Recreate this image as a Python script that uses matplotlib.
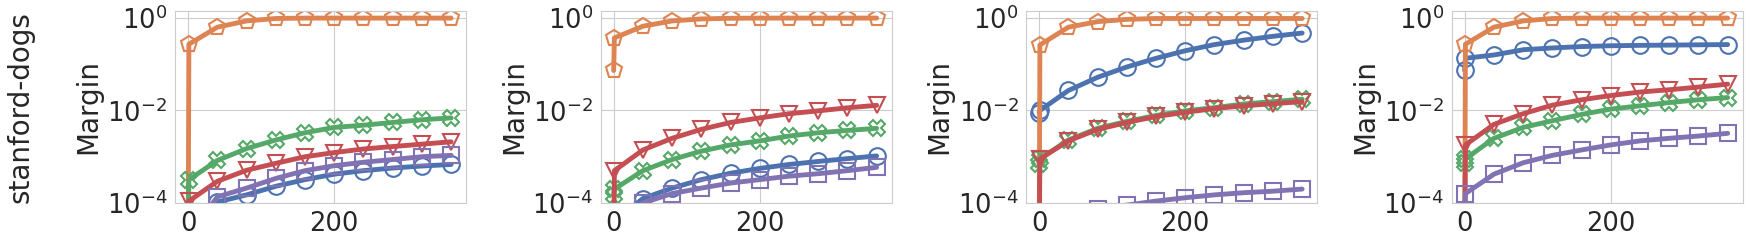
import numpy as np
import seaborn as sns
from matplotlib import pyplot as plt

# epochs at which values were logged (markers at every point)
epochs = [0, 1, 40, 80, 120, 160, 200, 240, 280, 320, 360]

# one list per panel
blue = [
    [1e-5, 3e-5, 1.05e-4, 1.5e-4, 2.3e-4, 3.2e-4, 4.2e-4, 5.0e-4, 5.7e-4, 6.3e-4, 6.8e-4],
    [2e-5, 4e-5, 1.25e-4, 2.1e-4, 3.2e-4, 4.4e-4, 5.6e-4, 6.8e-4, 7.9e-4, 9.1e-4, 1.04e-3],
    [9.0e-3, 1.0e-2, 2.7e-2, 5.2e-2, 8.7e-2, 0.134, 0.195, 0.265, 0.33, 0.40, 0.47],
    [0.073, 0.134, 0.158, 0.205, 0.224, 0.24, 0.25, 0.255, 0.258, 0.262, 0.265],
]
orange = [
    [1e-5, 0.27, 0.63, 0.86, 0.97, 0.99, 0.99, 0.99, 0.99, 0.99, 0.99],
    [0.073, 0.37, 0.66, 0.86, 0.95, 0.98, 0.99, 0.99, 0.99, 0.99, 0.99],
    [1e-5, 0.26, 0.63, 0.83, 0.93, 0.97, 0.97, 0.97, 0.97, 0.97, 0.97],
    [1e-5, 0.27, 0.63, 0.86, 0.97, 0.99, 0.99, 0.99, 0.99, 0.99, 0.99],
]
green = [
    [1e-5, 3.2e-4, 8.3e-4, 1.5e-3, 2.3e-3, 3.3e-3, 4.3e-3, 4.8e-3, 5.5e-3, 6.3e-3, 6.9e-3],
    [1.5e-4, 2.0e-4, 5.0e-4, 8.7e-4, 1.32e-3, 1.8e-3, 2.2e-3, 2.8e-3, 3.3e-3, 3.7e-3, 4.1e-3],
    [7e-4, 9e-4, 2.3e-3, 4.1e-3, 5.8e-3, 7.8e-3, 9.8e-3, 1.15e-2, 1.38e-2, 1.55e-2, 1.75e-2],
    [7.5e-4, 9e-4, 2.5e-3, 4.3e-3, 6.0e-3, 8.2e-3, 1.07e-2, 1.26e-2, 1.48e-2, 1.7e-2, 1.9e-2],
]
red = [
    [1e-5, 1.1e-4, 2.95e-4, 5.1e-4, 7.2e-4, 1.0e-3, 1.23e-3, 1.47e-3, 1.66e-3, 1.87e-3, 2.1e-3],
    [1e-5, 5.0e-4, 1.4e-3, 2.5e-3, 3.9e-3, 5.5e-3, 6.9e-3, 8.5e-3, 9.8e-3, 1.14e-2, 1.29e-2],
    [1e-5, 9.0e-4, 2.2e-3, 3.9e-3, 5.5e-3, 7.4e-3, 9.1e-3, 1.1e-2, 1.26e-2, 1.4e-2, 1.55e-2],
    [1e-5, 1.8e-3, 5.0e-3, 8.5e-3, 1.3e-2, 1.7e-2, 2.1e-2, 2.5e-2, 2.8e-2, 3.2e-2, 3.7e-2],
]
purple = [
    [1e-5, 2e-5, 1.36e-4, 2.1e-4, 3.4e-4, 5.0e-4, 6.4e-4, 7.6e-4, 8.7e-4, 1.0e-3, 1.07e-3],
    [1e-5, 3e-5, 1.0e-4, 1.6e-4, 2.1e-4, 2.7e-4, 3.2e-4, 3.8e-4, 4.3e-4, 5.0e-4, 5.9e-4],
    [1e-5, 2e-5, 5e-5, 7.5e-5, 9e-5, 1.1e-4, 1.3e-4, 1.5e-4, 1.67e-4, 1.8e-4, 2.0e-4],
    [5e-5, 1.6e-4, 4.2e-4, 7.4e-4, 1.07e-3, 1.4e-3, 1.8e-3, 2.2e-3, 2.5e-3, 2.8e-3, 3.2e-3],
]

dataset = 'stanford-dogs'
xticks = [0, 200]
yticks = [1e-4, 1e-2, 1e0]

# colour / marker for each series, drawn in this order
series = [
    (blue, '#4C72B0', 'o'),
    (orange, '#DD8452', 'p'),
    (green, '#55A868', 'X'),
    (red, '#C44E52', 'v'),
    (purple, '#8172B3', 's'),
]

sns.set_style('whitegrid')

fig, axes = plt.subplots(1, 4, figsize=(17.5, 2.44), dpi=100)
fig.subplots_adjust(left=0.1, right=0.996, bottom=0.168, top=0.955, wspace=0.46)

for i, ax in enumerate(axes):
    for vals, color, marker in series:
        ax.plot(epochs, vals[i], color=color, lw=3.5, marker=marker,
                ms=12, mfc='none', mec=color, mew=1.5)
    ax.set_yscale('log')
    ax.set_ylim(1e-4, 1.41)
    ax.set_xlim(-18, 381)
    ax.set_xticks(xticks)
    ax.set_yticks(yticks)
    ax.minorticks_off()
    ax.tick_params(labelsize=18.5, pad=2)
    ax.set_ylabel('Margin', fontsize=20, labelpad=3)
    for s in ax.spines.values():
        s.set_color('#cccccc')

fig.text(0.0115, 0.56, dataset, rotation=90, fontsize=20,
         ha='center', va='center', color='#262626')

plt.savefig('out.png', dpi=100)
